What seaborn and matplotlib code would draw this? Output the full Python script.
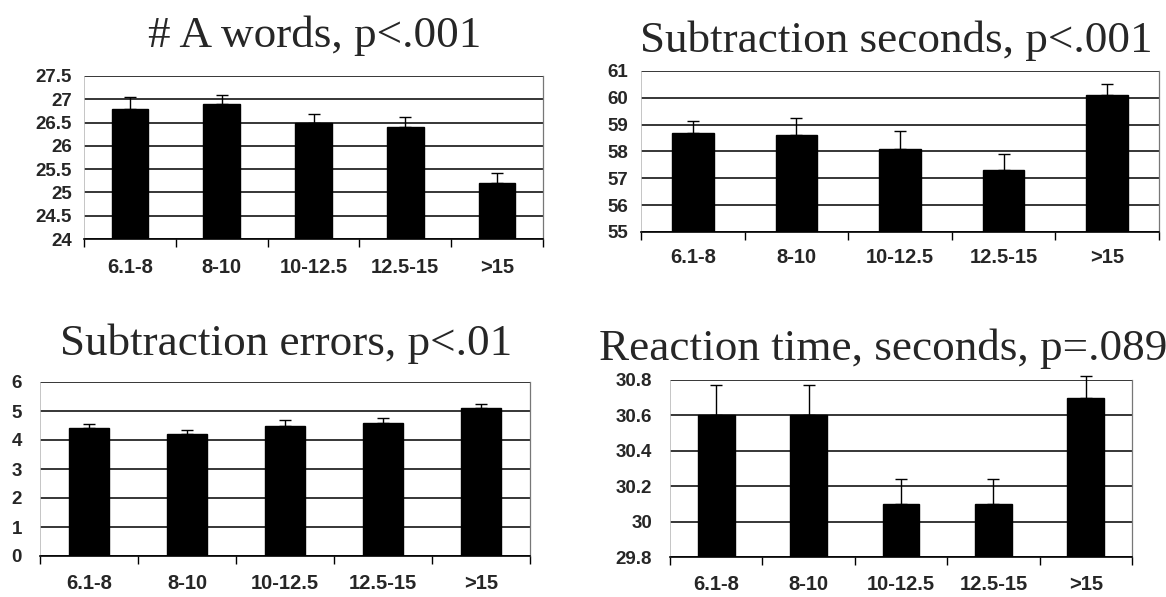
import matplotlib
matplotlib.use('Agg')
import matplotlib.pyplot as plt
import seaborn as sns
import numpy as np
from matplotlib.ticker import FixedLocator, FuncFormatter

# categories (years of education groups)
groups = ['6.1-8', '8-10', '10-12.5', '12.5-15', '>15']

# values
a_words = [26.8, 26.9, 26.5, 26.4, 25.2]
a_words_err = [0.25, 0.2, 0.18, 0.22, 0.22]

sub_seconds = [58.7, 58.6, 58.1, 57.3, 60.1]
sub_seconds_err = [0.45, 0.65, 0.65, 0.6, 0.4]

sub_errors = [4.4, 4.2, 4.5, 4.6, 5.1]
sub_errors_err = [0.15, 0.13, 0.2, 0.15, 0.15]

react_time = [30.6, 30.6, 30.1, 30.1, 30.7]
react_time_err = [0.17, 0.17, 0.14, 0.14, 0.12]

titles = ['# A words, p<.001', 'Subtraction seconds, p<.001',
          'Subtraction errors, p<.01', 'Reaction time, seconds, p=.089']
yranges = [(24, 27.5, 0.5), (55, 61, 1), (0, 6, 1), (29.8, 30.8, 0.2)]

sns.set_theme(style='white')
plt.rcParams['font.family'] = ['Liberation Sans', 'DejaVu Sans']

W, H = 1166, 597
fig = plt.figure(figsize=(W / 100, H / 100), dpi=100)

# layout in pixels: left, right, top, bottom, title centre x, title baseline y, ylabel pad, xlabel pad
layout = [
    (84, 543, 76, 239, 315, 47, 8.5, 14),
    (641, 1159, 71, 232, 896, 52, 9, 11.5),
    (40, 530, 382, 556, 286, 355, 13, 13),
    (670, 1132, 380, 557, 883, 360, 13, 13),
]
series = [(a_words, a_words_err), (sub_seconds, sub_seconds_err),
          (sub_errors, sub_errors_err), (react_time, react_time_err)]

for lay, (vals, errs), title, (lo, hi, step) in zip(layout, series, titles, yranges):
    l, r, t, b, tx, ty, ypad, xpad = lay
    ax = fig.add_axes([l / W, 1 - b / H, (r - l) / W, (b - t) / H])
    sns.barplot(x=groups, y=vals, color='black', saturation=1, width=0.4,
                edgecolor='black', ax=ax, zorder=3)
    pos = np.arange(len(groups))
    eb = ax.errorbar(pos, vals, yerr=[np.zeros(len(errs)), errs], fmt='none',
                     ecolor='black', elinewidth=1.0, capsize=4.5, capthick=1.0, zorder=4)
    for art in eb.lines[1] + eb.lines[2]:
        art.set_clip_on(False)
    ax.set_ylim(lo, hi)
    ax.set_xlim(-0.5, len(groups) - 0.5)
    yt = np.round(np.arange(lo, hi + step / 2, step), 2)
    ax.yaxis.set_major_locator(FixedLocator(yt))
    ax.yaxis.set_major_formatter(FuncFormatter(lambda v, p: '{:g}'.format(round(v, 2))))
    ax.yaxis.grid(True, color='black', linewidth=1.1)
    ax.set_axisbelow(True)
    ax.set_xlabel('')
    ax.set_ylabel('')
    ax.xaxis.set_minor_locator(FixedLocator(np.arange(-0.5, len(groups), 1)))
    ax.tick_params(axis='x', which='major', length=0, pad=xpad, labelsize=14.5)
    ax.tick_params(axis='x', which='minor', length=6, width=1, color='black', direction='out', bottom=True)
    ax.tick_params(axis='y', length=0, pad=ypad, labelsize=13.5)
    for lab in ax.get_xticklabels() + ax.get_yticklabels():
        lab.set_fontweight('bold')
    for side in ['right', 'left', 'bottom']:
        ax.spines[side].set_visible(True)
    ax.spines['bottom'].set_color('black')
    ax.spines['bottom'].set_linewidth(1.2)
    ax.spines['right'].set_color('#777777')
    ax.spines['right'].set_linewidth(0.9)
    ax.spines['left'].set_color('#bbbbbb')
    ax.spines['left'].set_linewidth(0.6)
    ax.spines['top'].set_visible(False)
    fig.text(tx / W, 1 - ty / H, title, ha='center', va='baseline',
             family=['Liberation Serif', 'DejaVu Serif'], fontsize=32.5)

fig.savefig('out.png', dpi=100, facecolor='white')
